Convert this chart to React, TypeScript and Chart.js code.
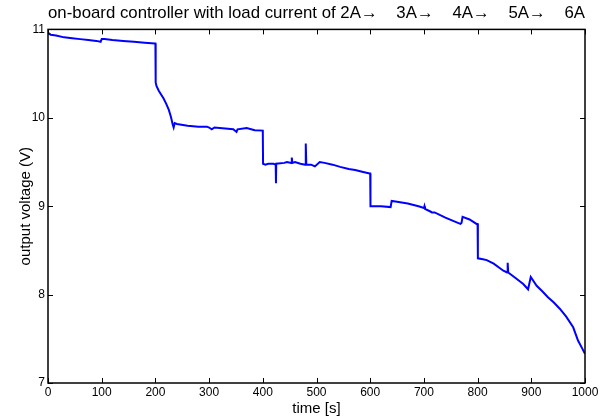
import React, { useEffect, useRef } from "react";
import { Chart, registerables } from "chart.js";

Chart.register(...registerables);

const TITLE = "on-board controller with load current of 2A\u2192    3A\u2192    4A\u2192    5A\u2192    6A";
const X_LABEL = "time [s]";
const Y_LABEL = "output voltage (V)";

const X_TICKS = [0, 100, 200, 300, 400, 500, 600, 700, 800, 900, 1000];
const Y_TICKS = [7, 8, 9, 10, 11];

// 2A segment
const time2A = [0, 5, 15, 30, 45, 60, 75, 90, 98, 100, 105, 120, 140, 160, 180, 199, 200];
const volt2A = [10.96, 10.94, 10.93, 10.91, 10.9, 10.89, 10.88, 10.87, 10.86, 10.89, 10.89, 10.88, 10.87, 10.86, 10.85, 10.84, 10.84];
// 3A segment
const time3A = [200.5, 202, 206, 210, 215, 220, 225, 229, 232, 234, 236, 240, 260, 280, 296, 300, 305, 310, 330, 345, 351, 353, 370, 385, 400];
const volt3A = [10.4, 10.36, 10.31, 10.27, 10.22, 10.16, 10.09, 10.01, 9.93, 9.89, 9.94, 9.93, 9.91, 9.9, 9.9, 9.89, 9.87, 9.89, 9.88, 9.87, 9.84, 9.87, 9.885, 9.86, 9.855];
// 4A segment
const time4A = [400.5, 405, 410, 420, 424, 424.5, 425, 440, 445, 453, 454, 455, 460, 470, 479, 480, 481, 490, 497, 506, 515, 530, 544, 560, 572, 585, 599, 600];
const volt4A = [9.48, 9.47, 9.48, 9.48, 9.47, 9.26, 9.48, 9.49, 9.5, 9.49, 9.55, 9.49, 9.5, 9.48, 9.47, 9.71, 9.47, 9.47, 9.45, 9.5, 9.49, 9.47, 9.445, 9.42, 9.41, 9.39, 9.37, 9.37];
// 5A segment
const time5A = [600.5, 610, 620, 638, 640, 650, 670, 690, 700, 701, 702, 712, 715, 720, 740, 760, 768, 770, 772, 785, 798, 800];
const volt5A = [9.0, 9.0, 9.0, 8.99, 9.06, 9.05, 9.03, 9.0, 8.98, 9.0, 8.97, 8.94, 8.93, 8.93, 8.87, 8.82, 8.8, 8.81, 8.88, 8.85, 8.8, 8.8];
// 6A segment
const time6A = [800.5, 810, 817, 830, 848, 855, 856, 857, 870, 885, 894, 899, 910, 920, 931, 942, 953, 965, 978, 987, 994, 1000];
const volt6A = [8.41, 8.4, 8.39, 8.35, 8.27, 8.25, 8.36, 8.25, 8.19, 8.12, 8.06, 8.2, 8.1, 8.04, 7.97, 7.91, 7.84, 7.75, 7.63, 7.48, 7.4, 7.33];

const times = [...time2A, ...time3A, ...time4A, ...time5A, ...time6A];
const volts = [...volt2A, ...volt3A, ...volt4A, ...volt5A, ...volt6A];

const FONT = "'Liberation Sans', Arial, Helvetica, sans-serif";

const boxTicks = {
  id: "boxTicks",
  afterDraw(chart: any) {
    const { ctx, chartArea } = chart;
    const { left, right, top, bottom } = chartArea;
    const xs = chart.scales.x;
    const ys = chart.scales.y;
    const len = 5;
    ctx.save();
    ctx.strokeStyle = "#000";
    ctx.lineWidth = 1;
    ctx.beginPath();
    X_TICKS.forEach((t) => {
      const px = Math.round(xs.getPixelForValue(t)) + 0.5;
      ctx.moveTo(px, bottom);
      ctx.lineTo(px, bottom - len);
      ctx.moveTo(px, top);
      ctx.lineTo(px, top + len);
    });
    Y_TICKS.forEach((v) => {
      const py = Math.round(ys.getPixelForValue(v)) + 0.5;
      ctx.moveTo(left, py);
      ctx.lineTo(left + len, py);
      ctx.moveTo(right, py);
      ctx.lineTo(right - len, py);
    });
    ctx.stroke();
    ctx.lineWidth = 1.5;
    ctx.strokeRect(left, top, right - left, bottom - top);
    ctx.restore();
  },
};

export default function App() {
  const ref = useRef<HTMLCanvasElement>(null);
  useEffect(() => {
    if (!ref.current) return;
    Chart.defaults.font.family = FONT;
    Chart.defaults.color = "#000";
    const chart = new Chart(ref.current, {
      type: "line",
      data: {
        datasets: [
          {
            data: times.map((t, i) => ({ x: t, y: volts[i] })),
            borderColor: "#0000ff",
            borderWidth: 2,
            pointRadius: 0,
            tension: 0,
            fill: false,
          },
        ],
      },
      options: {
        responsive: false,
        animation: false,
        layout: { padding: { left: 0, right: 24, top: 0, bottom: 0 } },
        plugins: {
          legend: { display: false },
          tooltip: { enabled: false },
          title: {
            display: true,
            fullSize: false,
            text: TITLE,
            color: "#000",
            font: { size: 17, weight: "normal", family: FONT },
            padding: { top: 3, bottom: 6 },
          },
        },
        scales: {
          x: {
            type: "linear",
            min: 0,
            max: 1000,
            afterFit: (s: any) => {
              s.height = 37;
            },
            afterBuildTicks: (s: any) => {
              s.ticks = X_TICKS.map((v) => ({ value: v }));
            },
            grid: { display: false, drawTicks: false },
            border: { display: false },
            ticks: {
              padding: 2,
              maxRotation: 0,
              autoSkip: false,
              font: { size: 12 },
              color: "#000",
              callback: (v: any) => String(v),
            },
            title: {
              display: true,
              text: X_LABEL,
              color: "#000",
              font: { size: 15 },
              padding: { top: 0, bottom: 2 },
            },
          },
          y: {
            type: "linear",
            min: 7,
            max: 11,
            afterFit: (s: any) => {
              s.width = 48;
            },
            afterBuildTicks: (s: any) => {
              s.ticks = Y_TICKS.map((v) => ({ value: v }));
            },
            grid: { display: false, drawTicks: false },
            border: { display: false },
            ticks: { padding: 3, font: { size: 12 }, color: "#000", callback: (v: any) => String(v) },
            title: {
              display: true,
              text: Y_LABEL,
              color: "#000",
              font: { size: 15 },
              padding: { top: 17, bottom: 0 },
            },
          },
        },
      },
      plugins: [boxTicks],
    });
    return () => chart.destroy();
  }, []);
  return (
    <div style={{ position: "absolute", left: 0, top: 0, width: 609, height: 420, background: "#fff" }}>
      <canvas ref={ref} width={609} height={420} style={{ display: "block" }} />
    </div>
  );
}
